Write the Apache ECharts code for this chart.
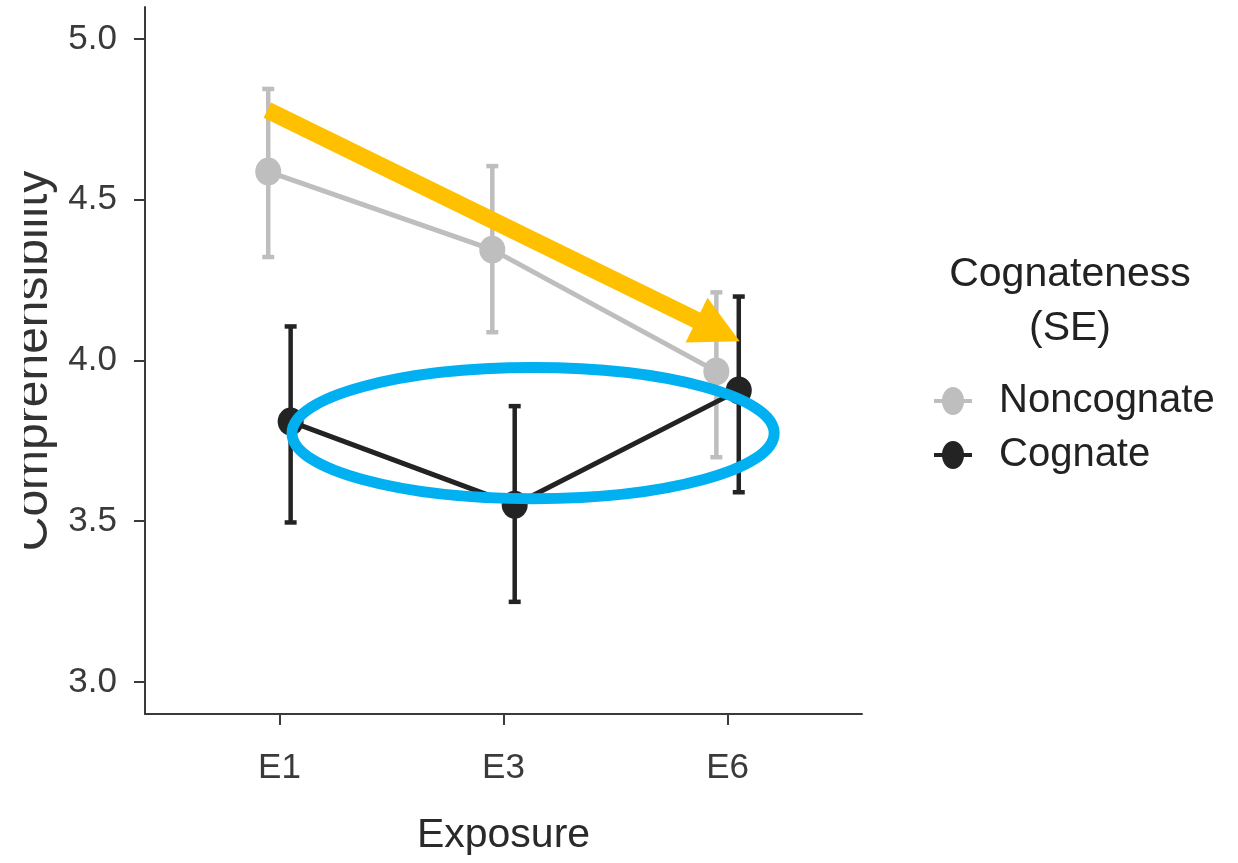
<!DOCTYPE html>
<html><head><meta charset="utf-8">
<script src="https://cdn.jsdelivr.net/npm/echarts@6/dist/echarts.min.js"></script>
<style>html,body{margin:0;padding:0;background:#fff}#c{width:1238px;height:863px}</style>
</head><body><div id="c"></div>
<script>
// ---- data ----
const categories = ['E1', 'E3', 'E6'];
const seriesNames = ['Noncognate', 'Cognate'];
const noncognateMean = [4.588, 4.345, 3.966];
const noncognateLow  = [4.322, 4.088, 3.699];
const noncognateHigh = [4.845, 4.605, 4.212];
const cognateMean = [3.810, 3.551, 3.907];
const cognateLow  = [3.496, 3.249, 3.590];
const cognateHigh = [4.106, 3.858, 4.199];
const yTicks = [3.0, 3.5, 4.0, 4.5, 5.0];
const legendTitle = 'Cognateness\n(SE)';
const xTitle = 'Exposure';
const yTitle = 'Comprehensibility';
// annotation anchors (data units)
const arrowFrom = [-0.054, 4.779];
const arrowTo = [2.054, 4.060];
const ellipseCenter = [1.132, 3.774];
const ellipseRadius = [1.076, 0.204];

// ---- style ----
const FONT = '"Liberation Sans", Arial, sans-serif';
const colNon = '#BEBEBE', colCog = '#232323';
const dodge = 0.05;

function pts(means, off) { return means.map((m, i) => [i + off, m]); }
function errs(lo, hi, off) { return lo.map((l, i) => [i + off, l, hi[i]]); }
function errRender(color) {
  return function (params, api) {
    const x = api.value(0);
    const pLo = api.coord([x, api.value(1)]);
    const pHi = api.coord([x, api.value(2)]);
    const cap = 6, st = { stroke: color, lineWidth: 4.5 };
    return { type: 'group', children: [
      { type: 'line', shape: { x1: pLo[0], y1: pLo[1], x2: pHi[0], y2: pHi[1] }, style: st },
      { type: 'line', shape: { x1: pHi[0] - cap, y1: pHi[1], x2: pHi[0] + cap, y2: pHi[1] }, style: st },
      { type: 'line', shape: { x1: pLo[0] - cap, y1: pLo[1], x2: pLo[0] + cap, y2: pLo[1] }, style: st }
    ]};
  };
}

const chart = echarts.init(document.getElementById('c'), null, { renderer: 'canvas' });
const axisCol = '#3a3a3a';
chart.setOption({
  animation: false,
  backgroundColor: '#fff',
  grid: { left: 145, top: 7, right: 376, bottom: 149, containLabel: false },
  xAxis: {
    type: 'value', min: -0.6, max: 2.6,
    splitLine: { show: false },
    axisLine: { show: true, onZero: false, lineStyle: { color: axisCol, width: 2 } },
    axisTick: { show: true, customValues: [0, 1, 2], length: 11, lineStyle: { color: axisCol, width: 2 } },
    axisLabel: { customValues: [0, 1, 2], formatter: v => categories[Math.round(v)], margin: 37,
      fontSize: 35, color: '#3a3a3a', fontFamily: FONT },
    name: xTitle, nameLocation: 'middle', nameGap: 101,
    nameTextStyle: { fontSize: 41, color: '#2a2a2a', fontFamily: FONT }
  },
  yAxis: {
    type: 'value', min: 2.9, max: 5.1,
    splitLine: { show: false },
    axisLine: { show: true, onZero: false, lineStyle: { color: axisCol, width: 2 } },
    axisTick: { show: true, customValues: yTicks, length: 11, lineStyle: { color: axisCol, width: 2 } },
    axisLabel: { customValues: yTicks, formatter: v => v.toFixed(1), margin: 28,
      fontSize: 35, color: '#3a3a3a', fontFamily: FONT, padding: [10, 0, 0, 0] },
    name: yTitle, nameLocation: 'middle', nameGap: 82,
    nameTextStyle: { fontSize: 48, color: '#333', fontFamily: FONT }
  },
  legend: {
    orient: 'vertical', left: 929, top: 376, itemWidth: 38, itemHeight: 28, itemGap: 14,
    icon: 'path://M0,12H38V16H0Z M8,14A11,14,0,1,1,30,14A11,14,0,1,1,8,14Z',
    selectedMode: false,
    textStyle: { fontSize: 40, color: '#222', fontFamily: FONT, padding: [0, 0, 0, 22] },
    data: [
      { name: seriesNames[0], itemStyle: { color: colNon, borderWidth: 0 } },
      { name: seriesNames[1], itemStyle: { color: colCog, borderWidth: 0 } }
    ]
  },
  series: [
    { type: 'custom', name: seriesNames[0] + ' SE', z: 2, renderItem: errRender(colNon),
      data: errs(noncognateLow, noncognateHigh, -dodge), encode: { x: 0, y: [1, 2] }, silent: true },
    { type: 'line', name: seriesNames[0], z: 3, data: pts(noncognateMean, -dodge),
      symbol: 'circle', symbolSize: [26, 28], color: colNon,
      lineStyle: { width: 5, color: colNon }, itemStyle: { color: colNon } },
    { type: 'custom', name: seriesNames[1] + ' SE', z: 4, renderItem: errRender(colCog),
      data: errs(cognateLow, cognateHigh, dodge), encode: { x: 0, y: [1, 2] }, silent: true },
    { type: 'line', name: seriesNames[1], z: 5, data: pts(cognateMean, dodge),
      symbol: 'circle', symbolSize: [26, 28], color: colCog,
      lineStyle: { width: 5, color: colCog }, itemStyle: { color: colCog } }
  ]
});

// ---- annotations positioned through the axes ----
const toPx = p => chart.convertToPixel({ gridIndex: 0 }, p);
const a0 = toPx(arrowFrom), a1 = toPx(arrowTo);
const dx = a1[0] - a0[0], dy = a1[1] - a0[1], L = Math.hypot(dx, dy);
const ux = dx / L, uy = dy / L, px = -uy, py = ux;
const headLen = 48, headW = 50, shaftW = 17;
const bx = a1[0] - ux * headLen, by = a1[1] - uy * headLen;
const arrowPts = [
  [a0[0] + px * shaftW / 2, a0[1] + py * shaftW / 2],
  [bx + px * shaftW / 2, by + py * shaftW / 2],
  [bx + px * headW / 2, by + py * headW / 2],
  [a1[0], a1[1]],
  [bx - px * headW / 2, by - py * headW / 2],
  [bx - px * shaftW / 2, by - py * shaftW / 2],
  [a0[0] - px * shaftW / 2, a0[1] - py * shaftW / 2]
];
const ec = toPx(ellipseCenter);
const erx = Math.abs(toPx([ellipseCenter[0] + ellipseRadius[0], ellipseCenter[1]])[0] - ec[0]);
const ery = Math.abs(toPx([ellipseCenter[0], ellipseCenter[1] + ellipseRadius[1]])[1] - ec[1]);

chart.setOption({
  graphic: [
    { type: 'polygon', z: 100, shape: { points: arrowPts }, style: { fill: '#FFC000' }, silent: true },
    { type: 'ellipse', z: 101, shape: { cx: ec[0], cy: ec[1], rx: erx, ry: ery },
      style: { fill: 'none', stroke: '#00B0F0', lineWidth: 11 }, silent: true },
    { type: 'text', z: 102, x: 1070, y: 248,
      style: { text: legendTitle, align: 'center', verticalAlign: 'top', fontSize: 41,
        lineHeight: 54, fontFamily: FONT, fill: '#222' } },
    { type: 'rect', z: 200, shape: { x: 0, y: 0, width: 24, height: 863 }, style: { fill: '#fff' }, silent: true }
  ]
});
</script>
</body></html>
